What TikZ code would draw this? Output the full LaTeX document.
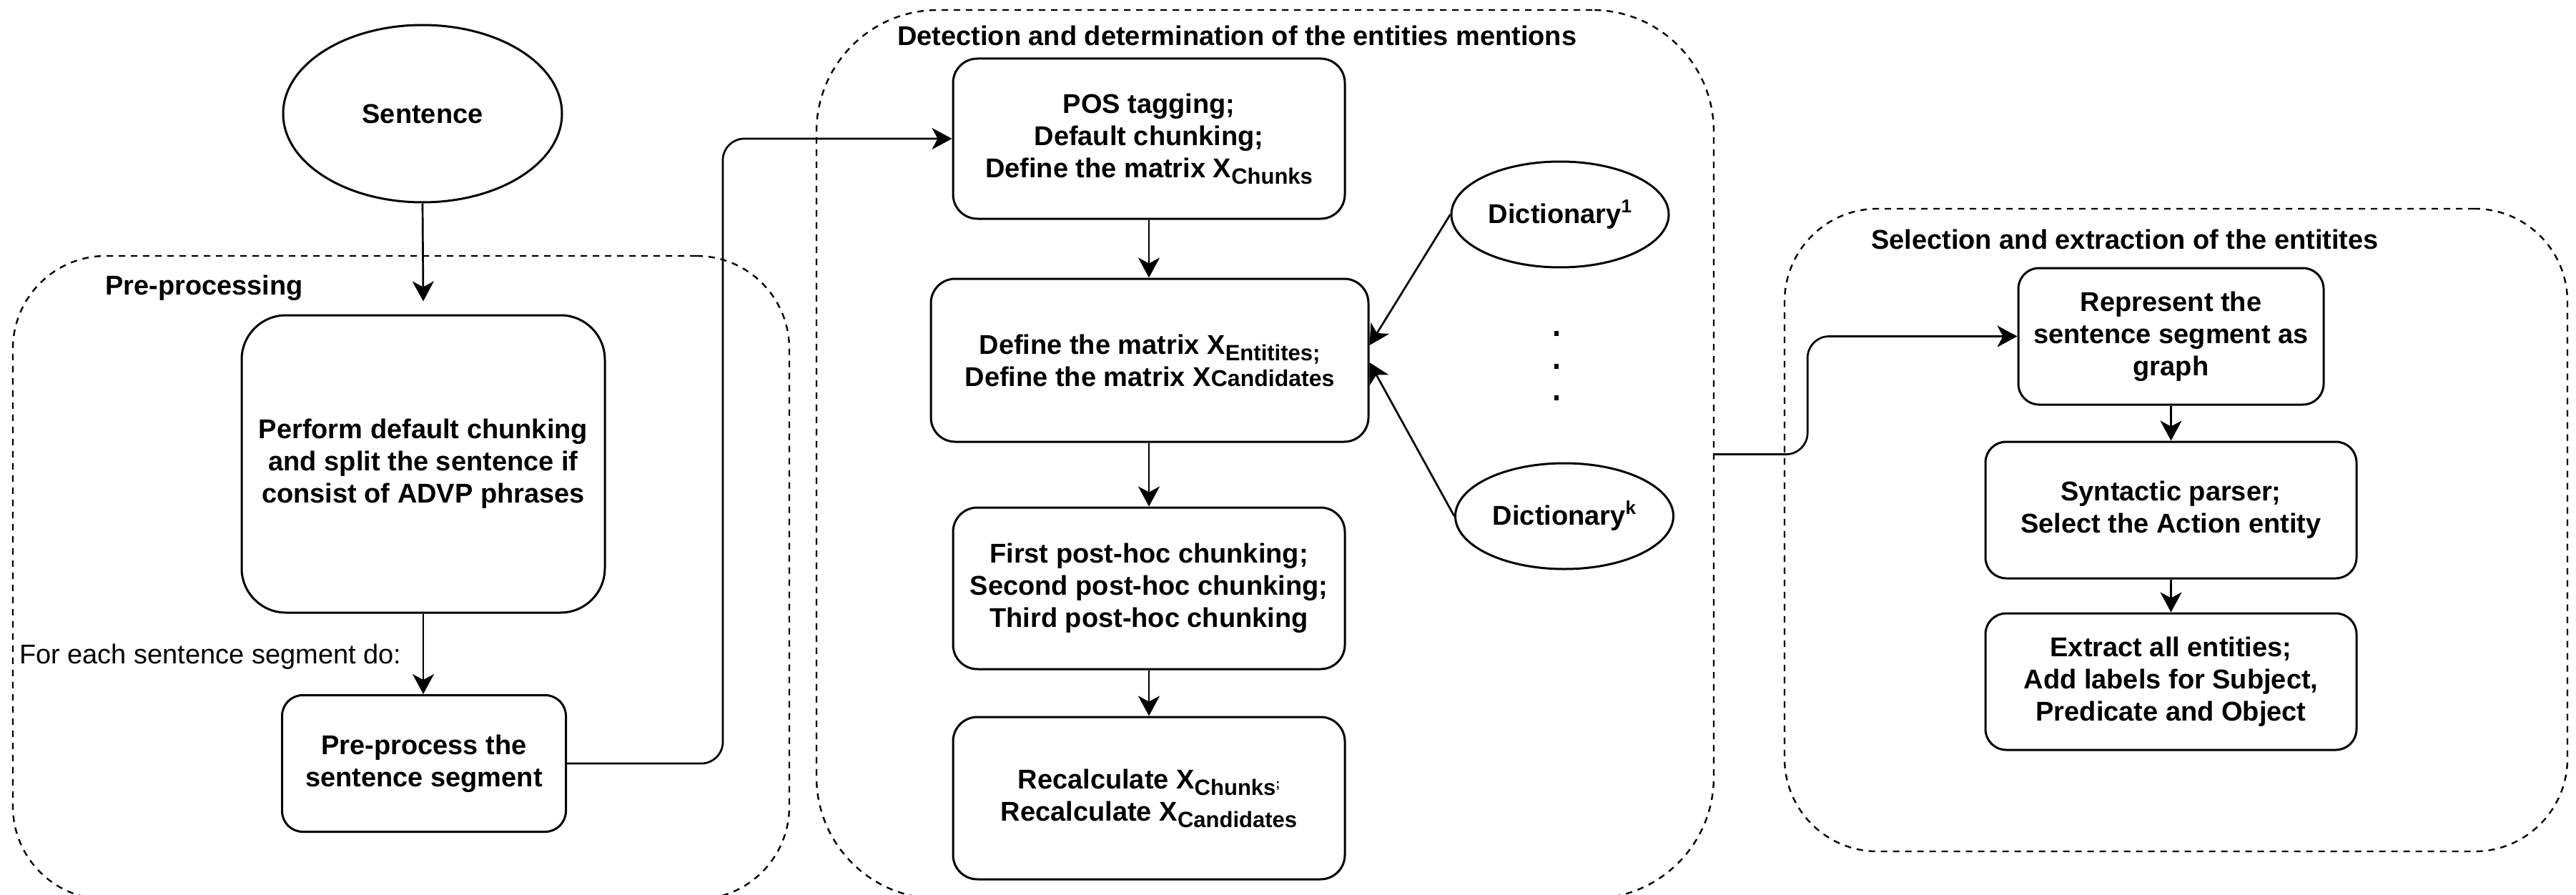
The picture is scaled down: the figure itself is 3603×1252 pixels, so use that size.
\documentclass[tikz,border=0pt]{standalone}
\usepackage{fontspec}
\setmainfont{Liberation Sans}
\usetikzlibrary{arrows.meta,calc,shapes.geometric}
\newcommand{\sbx}[1]{\raisebox{-9pt}{\fontsize{31}{31}\selectfont #1}}
\newcommand{\spx}[1]{\raisebox{15pt}{\fontsize{26}{26}\selectfont #1}}
\newcommand{\tinysemi}{\raisebox{10pt}{\fontsize{18}{18}\selectfont ;}}
\begin{document}
\begin{tikzpicture}[x=1pt,y=-1pt,
  box/.style={draw, line width=3pt, rounded corners=#1, inner sep=0pt, align=center,
    font=\fontsize{38}{45}\selectfont\bfseries},
  box/.default=34pt,
  ell/.style={draw, ellipse, line width=3pt, inner sep=0pt,
    font=\fontsize{38}{45}\selectfont\bfseries},
  container/.style={draw, line width=2.4pt, dash pattern=on 9pt off 8pt, inner sep=0pt, rounded corners=#1},
  title/.style={anchor=west, inner sep=0pt, font=\fontsize{38}{45}\selectfont\bfseries},
  plainlabel/.style={anchor=west, inner sep=0pt, font=\fontsize{38}{45}\selectfont},
  conn/.style={line width=2.7pt, -{Stealth[length=28pt,width=30pt,inset=8pt]}},
  dotmark/.style={fill, inner sep=0pt, minimum width=6pt, minimum height=7pt}
]
\useasboundingbox (0,0) rectangle (3603,1252);

% containers
\begin{scope}
\clip (0,0) rectangle (3603,1252);
\node[container=130pt, minimum width=1086pt, minimum height=900pt] (precont) at (561,808) {};
\node[container=170pt, minimum width=1255pt, minimum height=1243pt] (det) at (1769.5,635.5) {};
\node[container=130pt, minimum width=1095pt, minimum height=899pt] (sel) at (3043.5,741.5) {};
\end{scope}

% titles
\node[title] (tpre) at (147,403) {Pre-processing};
\node[title] (tdet) at (1255,50) {Detection and determination of the entities mentions};
\node[title] (tsel) at (2617,335) {Selection and extraction of the entitites};

% pre-processing
\node[ell, minimum width=390pt, minimum height=248pt] (sent) at (591,159) {Sentence};
\node[box=62pt, minimum width=508pt, minimum height=416pt] (perf) at (592,649)
  {Perform default chunking\\and split the sentence if\\consist of ADVP phrases};
\node[box=29pt, minimum width=397pt, minimum height=191pt] (prep) at (593,1068)
  {Pre-process the\\sentence segment};
\node[plainlabel] (lbl) at (27,919) {For each sentence segment do:};

% detection
\node[box, minimum width=548pt, minimum height=224pt] (pos) at (1607,194)
  {POS tagging;\\Default chunking;\\Define the matrix X\sbx{Chunks}};
\node[box, minimum width=612pt, minimum height=228pt] (def) at (1608,504)
  {Define the matrix X\sbx{Entitites;}\\Define the matrix X{\fontsize{32}{45}\selectfont Candidates}};
\node[box, minimum width=548pt, minimum height=226pt] (first) at (1607,823)
  {First post-hoc chunking;\\Second post-hoc chunking;\\Third post-hoc chunking};
\node[box, minimum width=548pt, minimum height=227pt] (rec) at (1607,1116.5)
  {Recalculate X\sbx{Chunks\tinysemi}\\Recalculate X\sbx{Candidates}};
\node[ell, minimum width=304pt, minimum height=148pt] (d1) at (2182,300) {Dictionary\spx{1}};
\node[ell, minimum width=305pt, minimum height=148pt] (dk) at (2188,722) {Dictionary\spx{k}};
\node[dotmark] (dot1) at (2177,466) {};
\node[dotmark] (dot2) at (2177,512) {};
\node[dotmark] (dot3) at (2177,556) {};

% selection
\node[box=29pt, minimum width=427pt, minimum height=191pt] (rep) at (3036.5,470.5)
  {Represent the\\sentence segment as\\graph};
\node[box=29pt, minimum width=519pt, minimum height=191pt] (syn) at (3036.5,713.5)
  {Syntactic parser;\\Select the Action entity};
\node[box=29pt, minimum width=519pt, minimum height=191pt] (ext) at (3036.5,953.5)
  {Extract all entities;\\Add labels for Subject,\\Predicate and Object};

% connectors
\coordinate (perfin) at ($(perf.north)+(0,-18)$);
\draw[conn] (sent.south) -- (perfin);
\draw[conn] (perf.south) -- (perf.south |- prep.north);
\draw[conn, rounded corners=30pt] (prep.east) -- ++(218,0) |- (pos.west);
\draw[conn] (pos.south) -- (pos.south |- def.north);
\draw[conn] (pos.south |- def.south) -- (pos.south |- first.north);
\draw[conn] (first.south) -- (rec.north);
\coordinate (din1) at ($(def.east)+(0,-21)$);
\coordinate (dink) at ($(def.east)+(0,3)$);
\draw[conn] (d1.west) -- (din1);
\draw[conn] (dk.west) -- (dink);
\draw[conn, rounded corners=30pt] (det.east) -- ++(130,0) |- (rep.west);
\draw[conn] (rep.south) -- (rep.south |- syn.north);
\draw[conn] (syn.south) -- (syn.south |- ext.north);
\end{tikzpicture}
\end{document}
